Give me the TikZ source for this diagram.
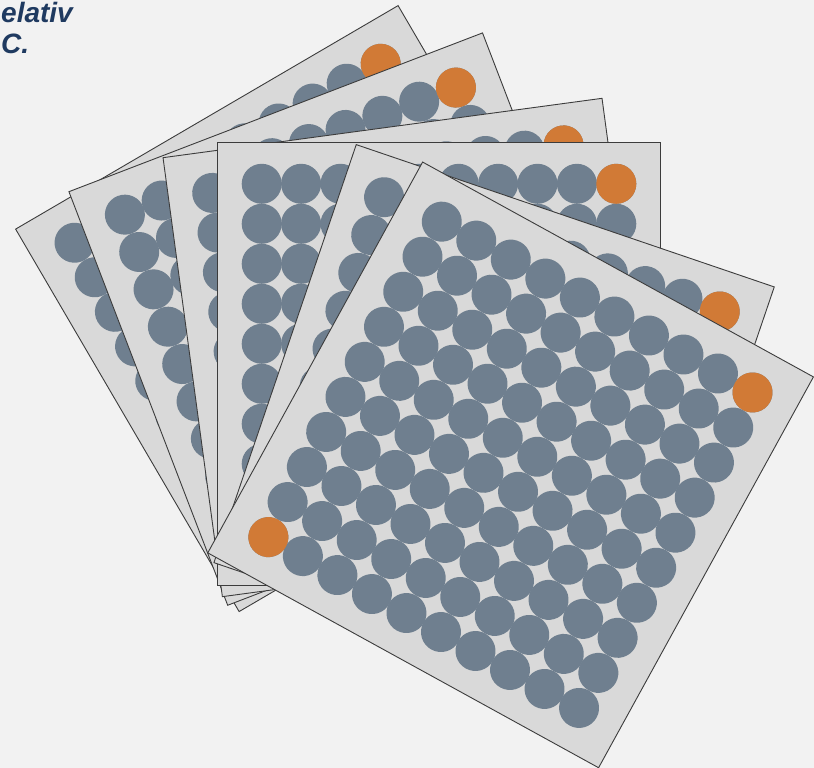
\documentclass[tikz,border=0pt]{standalone}
\usepackage{fontspec}
\setmainfont{Liberation Sans}
\definecolor{bgcol}{HTML}{F2F2F2}
\definecolor{platecol}{HTML}{D9D9D9}
\definecolor{edgecol}{HTML}{3C3C3C}
\definecolor{wellcol}{HTML}{6F7F8F}
\definecolor{hotcol}{HTML}{D17A36}
\definecolor{navycol}{HTML}{1F3A60}
\tikzset{
  platebox/.style={fill=platecol, draw=edgecol, line width=0.9pt, line join=miter},
  wellfill/.style={fill=wellcol},
  hotfill/.style={fill=hotcol},
  headtext/.style={anchor=base west, inner sep=0pt, text=navycol,
    font=\bfseries\itshape\fontsize{28}{30}\selectfont}
}
% #1 cx, #2 cy (image px), #3 angle, #4 half side
\newcommand\myplate[4]{%
  \begin{scope}[shift={(#1,{768-#2})}, rotate=#3]
    \filldraw[platebox] (-#4,-#4) rectangle (#4,#4);
    \foreach \i in {0,...,9}{
      \foreach \j in {0,...,9}{
        \fill[wellfill] ({-177.5+39.4*\i},{180-40*\j}) circle (20);
      }
    }
    \fill[hotfill] (177.1,180) circle (20);
    \fill[hotfill] (-177.5,-180) circle (20);
  \end{scope}%
}
\begin{document}
\begin{tikzpicture}[x=1pt,y=1pt]
  \useasboundingbox[fill=bgcol] (0,0) rectangle (814,768);
  \myplate{318.6}{308.6}{30.3}{221.5}
  \myplate{355.1}{319.1}{21.0}{221.5}
  \myplate{412.2}{347.5}{7.7}{221.5}
  \myplate{439.2}{363.8}{0}{221.5}
  \myplate{494.1}{424.8}{-18.8}{220.8}
  \myplate{510.6}{464.9}{-28.8}{223}
  \node[headtext] (t1) at (1,{768-22.7}) {elativ};
  \node[headtext] (t2) at (1,{768-53.3}) {C.};
\end{tikzpicture}
\end{document}
